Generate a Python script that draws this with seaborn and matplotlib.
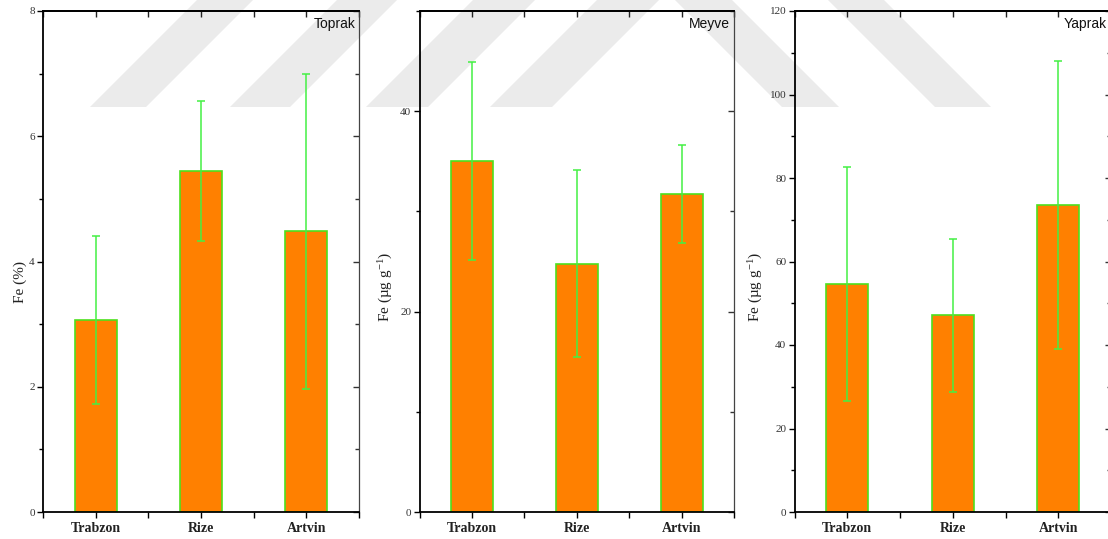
import numpy as np
import pandas as pd
import matplotlib
matplotlib.use("Agg")
import matplotlib.pyplot as plt
import seaborn as sns
from matplotlib.ticker import MultipleLocator, FixedLocator, NullFormatter
from matplotlib.patches import Polygon

# ---- data: Fe content by site (mean and standard deviation) ----
sites = ["Trabzon", "Rize", "Artvin"]

toprak_mean = [3.06, 5.44, 4.48]
toprak_sd = [1.34, 1.12, 2.52]

meyve_mean = [35.0, 24.8, 31.7]
meyve_sd = [9.9, 9.3, 4.9]

yaprak_mean = [54.6, 47.1, 73.6]
yaprak_sd = [28.1, 18.4, 34.5]

panel_names = ["Toprak", "Meyve", "Yaprak"]
y_labels = ["Fe (%)", "Fe (\u00b5g g$^{-1}$)", "Fe (\u00b5g g$^{-1}$)"]

# ---- style ----
sns.set_theme(style="white")
plt.rcParams["font.family"] = ["Liberation Serif", "DejaVu Serif"]
plt.rcParams["mathtext.fontset"] = "custom"
plt.rcParams["mathtext.rm"] = "Liberation Serif"
plt.rcParams["mathtext.it"] = "Liberation Serif:italic"

ORANGE = "#ff8000"
EDGE = "#4ee01e"
ERR = "#44f044"

W, H = 1108, 539
fig = plt.figure(figsize=(W / 100, H / 100), dpi=100)
fig.patch.set_facecolor("white")


def rect(left, right, top, bottom):
    return [left / W, 1 - bottom / H, (right - left) / W, (bottom - top) / H]


# faint diagonal background bands
band_color = "#ebebeb"
rise = 107
for x0, w in [(90, 56), (230, 60), (366, 62), (490, 62)]:
    pts = [(x0, rise), (x0 + w, rise), (x0 + w + rise + 10, -10), (x0 + rise + 10, -10)]
    fig.add_artist(Polygon([(x / W, 1 - y / H) for x, y in pts], closed=True,
                           transform=fig.transFigure, facecolor=band_color,
                           edgecolor="none", zorder=-5))
for x0, w in [(782, 57), (935, 56)]:
    pts = [(x0, rise), (x0 + w, rise), (x0 + w - rise - 10, -10), (x0 - rise - 10, -10)]
    fig.add_artist(Polygon([(x / W, 1 - y / H) for x, y in pts], closed=True,
                           transform=fig.transFigure, facecolor=band_color,
                           edgecolor="none", zorder=-5))

panels = [
    dict(mean=toprak_mean, sd=toprak_sd, box=(43, 359, 11, 512), ylim=(0, 8),
         major=2, minor=1, lab_x=-0.052, lab_y=0.46),
    dict(mean=meyve_mean, sd=meyve_sd, box=(419.5, 734, 11, 512), ylim=(0, 50),
         major=20, minor=10, lab_x=-0.078, lab_y=0.45),
    dict(mean=yaprak_mean, sd=yaprak_sd, box=(794.5, 1111, 11, 512), ylim=(0, 120),
         major=20, minor=10, lab_x=-0.092, lab_y=0.45),
]

for p, name, ylab in zip(panels, panel_names, y_labels):
    ax = fig.add_axes(rect(*p["box"]))
    ax.set_facecolor("none")
    df = pd.DataFrame({"site": sites, "Fe": p["mean"]})
    sns.barplot(data=df, x="site", y="Fe", width=0.4, color=ORANGE,
                saturation=1, edgecolor=EDGE, linewidth=1.2, ax=ax, zorder=2)
    pos = np.arange(len(sites))
    ax.errorbar(pos, p["mean"], yerr=p["sd"], fmt="none", ecolor=ERR,
                elinewidth=1.1, capsize=2.6, capthick=1.1, zorder=3)

    ax.set_xlim(-0.5, len(sites) - 0.5)
    ax.set_ylim(*p["ylim"])
    ax.set_xlabel("")
    ax.yaxis.set_major_locator(MultipleLocator(p["major"]))
    ax.yaxis.set_minor_locator(MultipleLocator(p["minor"]))
    ax.xaxis.set_minor_locator(FixedLocator(np.arange(-0.5, len(sites), 1.0)))

    ax.tick_params(axis="x", which="major", direction="out", length=4, width=1,
                   labelsize=10, pad=3, color="black", labelcolor="#222222",
                   bottom=True, top=False)
    ax.tick_params(axis="x", which="minor", direction="out", length=4, width=1,
                   bottom=True, top=False, color="black")
    ax.tick_params(axis="y", which="major", direction="out", length=4, width=1,
                   labelsize=8, pad=2, color="black", labelcolor="#333333",
                   left=True, right=False)
    ax.tick_params(axis="y", which="minor", direction="out", length=3, width=1,
                   left=True, right=False, color="black")
    for lbl in ax.get_xticklabels():
        lbl.set_fontweight("bold")

    # mirrored ticks pointing inward on the top and right edges
    top = ax.secondary_xaxis("top")
    top.set_xticks(pos)
    top.xaxis.set_minor_locator(FixedLocator(np.arange(-0.5, len(sites), 1.0)))
    top.xaxis.set_major_formatter(NullFormatter())
    top.tick_params(which="both", direction="in", length=4, width=1, color="#222222")
    top.spines["top"].set_linewidth(1.3)
    top.spines["top"].set_color("black")

    right = ax.secondary_yaxis("right")
    right.yaxis.set_major_locator(MultipleLocator(p["major"]))
    right.yaxis.set_minor_locator(MultipleLocator(p["minor"]))
    right.yaxis.set_major_formatter(NullFormatter())
    right.tick_params(which="major", direction="in", length=4, width=1, color="#333333")
    right.tick_params(which="minor", direction="in", length=3, width=1, color="#333333")
    right.spines["right"].set_linewidth(0.9)
    right.spines["right"].set_color("#444444")

    for side in ["left", "bottom", "top"]:
        ax.spines[side].set_visible(True)
        ax.spines[side].set_color("black")
        ax.spines[side].set_linewidth(1.3)
    ax.spines["right"].set_visible(False)

    ax.set_ylabel(ylab, fontsize=11, color="#222222")
    ax.yaxis.set_label_coords(p["lab_x"], p["lab_y"])

    ax.text(0.988, 0.988, name, transform=ax.transAxes, ha="right", va="top",
            fontsize=10, family="Liberation Sans", color="#111111")

fig.savefig("out.png", dpi=100, facecolor="white")
